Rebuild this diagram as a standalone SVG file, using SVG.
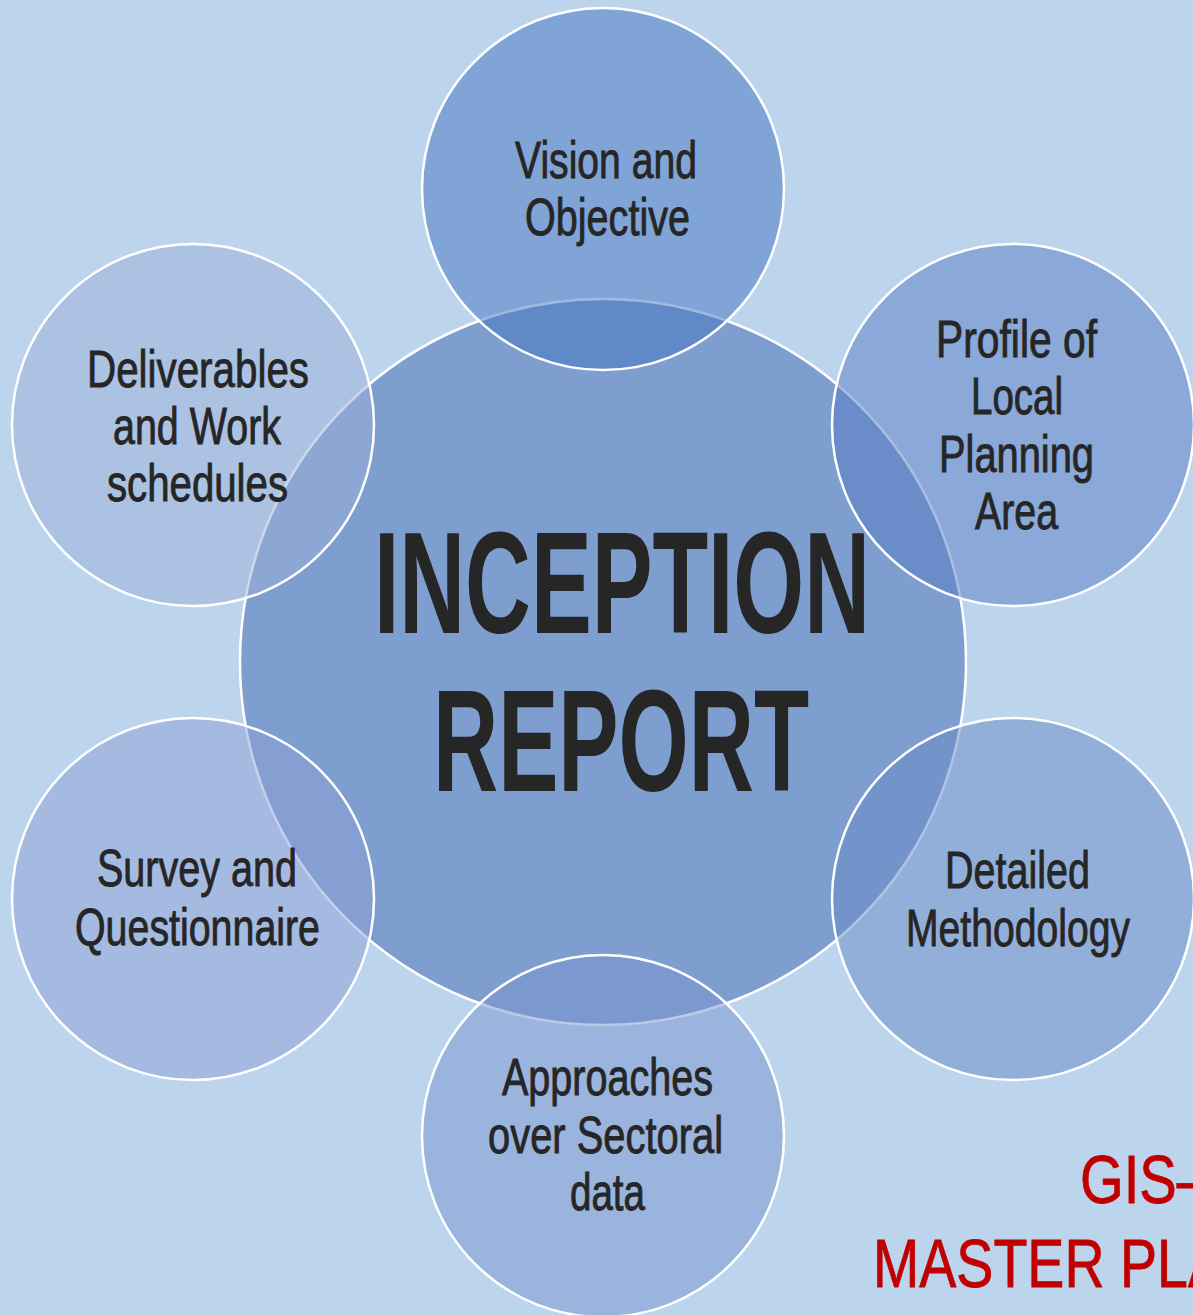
<svg xmlns="http://www.w3.org/2000/svg" width="1193" height="1315" viewBox="0 0 1193 1315">
<style>
.sat{stroke:#FFFFFF;stroke-width:2.5;fill-opacity:0.5}
.lbl{font-family:"Liberation Sans","DejaVu Sans",Arial,sans-serif;font-size:52px;fill:#262626;stroke:#262626;stroke-width:0.9}
.big{font-family:"Liberation Sans","DejaVu Sans",Arial,sans-serif;font-size:144px;font-weight:bold;fill:#262626}
.red{font-family:"Liberation Sans","DejaVu Sans",Arial,sans-serif;font-size:68px;fill:#C00000;stroke:#C00000;stroke-width:0.8}
</style>
<rect x="0" y="0" width="1193" height="1315" fill="#BDD5EC"/>
<g id="center">
<circle cx="603" cy="662" r="363" fill="#7D9ECE" stroke="#FFFFFF" stroke-width="2.5"/>
</g>
<g id="connectors"></g>
<g id="node-top">
<circle class="sat" cx="603" cy="189" r="181" fill="#4373C0"/>
<text class="lbl" x="515" y="178" textLength="182" lengthAdjust="spacingAndGlyphs">Vision and</text>
<text class="lbl" x="525" y="235" textLength="165" lengthAdjust="spacingAndGlyphs">Objective</text>
</g>
<g id="node-top-right">
<circle class="sat" cx="1013" cy="425" r="181" fill="#577BC4"/>
<text class="lbl" x="936" y="357" textLength="161" lengthAdjust="spacingAndGlyphs">Profile of</text>
<text class="lbl" x="971" y="414" textLength="92" lengthAdjust="spacingAndGlyphs">Local</text>
<text class="lbl" x="939" y="472" textLength="155" lengthAdjust="spacingAndGlyphs">Planning</text>
<text class="lbl" x="975" y="529" textLength="83" lengthAdjust="spacingAndGlyphs">Area</text>
</g>
<g id="node-bottom-right">
<circle class="sat" cx="1013" cy="899" r="181" fill="#6789C8"/>
<text class="lbl" x="945" y="888" textLength="145" lengthAdjust="spacingAndGlyphs">Detailed</text>
<text class="lbl" x="906" y="946" textLength="224" lengthAdjust="spacingAndGlyphs">Methodology</text>
</g>
<g id="node-bottom">
<circle class="sat" cx="603" cy="1136" r="181" fill="#7993CE"/>
<text class="lbl" x="502" y="1095" textLength="211" lengthAdjust="spacingAndGlyphs">Approaches</text>
<text class="lbl" x="488" y="1153" textLength="235" lengthAdjust="spacingAndGlyphs">over Sectoral</text>
<text class="lbl" x="570" y="1210" textLength="75" lengthAdjust="spacingAndGlyphs">data</text>
</g>
<g id="node-bottom-left">
<circle class="sat" cx="193" cy="899" r="181" fill="#8D9FD6"/>
<text class="lbl" x="97" y="886" textLength="200" lengthAdjust="spacingAndGlyphs">Survey and</text>
<text class="lbl" x="75" y="945" textLength="245" lengthAdjust="spacingAndGlyphs">Questionnaire</text>
</g>
<g id="node-top-left">
<circle class="sat" cx="193" cy="425" r="181" fill="#9BAFDA"/>
<text class="lbl" x="87" y="387" textLength="222" lengthAdjust="spacingAndGlyphs">Deliverables</text>
<text class="lbl" x="113" y="444" textLength="168" lengthAdjust="spacingAndGlyphs">and Work</text>
<text class="lbl" x="107" y="501" textLength="181" lengthAdjust="spacingAndGlyphs">schedules</text>
</g>
<g id="center-label">
<text class="big" x="374" y="633" textLength="496" lengthAdjust="spacingAndGlyphs">INCEPTION</text>
<text class="big" x="433" y="791" textLength="376" lengthAdjust="spacingAndGlyphs">REPORT</text>
</g>
<g id="title">
<text class="red" x="1080" y="1203" textLength="128" lengthAdjust="spacingAndGlyphs">GIS–</text>
<text class="red" x="873" y="1287" textLength="352" lengthAdjust="spacingAndGlyphs">MASTER PLA</text>
</g>
</svg>
